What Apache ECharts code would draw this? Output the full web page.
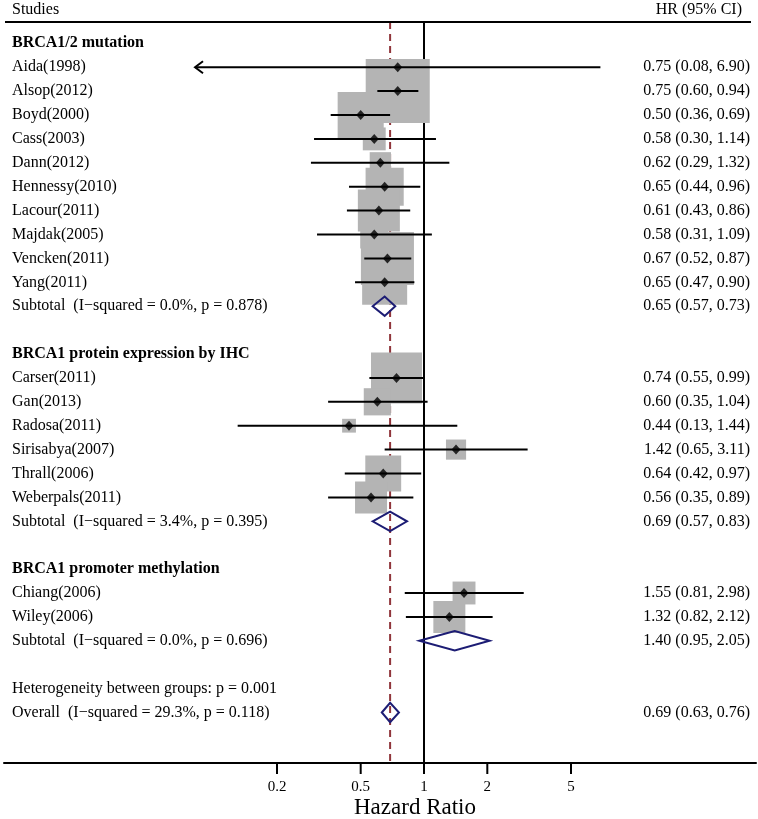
<!DOCTYPE html>
<html><head><meta charset="utf-8">
<script src="https://cdn.jsdelivr.net/npm/echarts@6/dist/echarts.min.js"></script>
<style>html,body{margin:0;padding:0;background:#fff}#c{width:758px;height:819px}</style>
</head><body><div id="c"></div>
<script>
// ---------------- data ----------------
const groups = ["BRCA1/2 mutation", "BRCA1 protein expression by IHC", "BRCA1 promoter methylation"];
const studies = ["Aida(1998)","Alsop(2012)","Boyd(2000)","Cass(2003)","Dann(2012)","Hennessy(2010)","Lacour(2011)","Majdak(2005)","Vencken(2011)","Yang(2011)",
                 "Carser(2011)","Gan(2013)","Radosa(2011)","Sirisabya(2007)","Thrall(2006)","Weberpals(2011)",
                 "Chiang(2006)","Wiley(2006)"];
const studyGroup = [0,0,0,0,0,0,0,0,0,0, 1,1,1,1,1,1, 2,2];
const hr    = [0.75,0.75,0.50,0.58,0.62,0.65,0.61,0.58,0.67,0.65, 0.74,0.60,0.44,1.42,0.64,0.56, 1.55,1.32];
const lower = [0.08,0.60,0.36,0.30,0.29,0.44,0.43,0.31,0.52,0.47, 0.55,0.35,0.13,0.65,0.42,0.35, 0.81,0.82];
const upper = [6.90,0.94,0.69,1.14,1.32,0.96,0.86,1.09,0.87,0.90, 0.99,1.04,1.44,3.11,0.97,0.89, 2.98,2.12];
const weight = [0.1,17.2,8.9,2.2,1.9,6.1,7.4,3.3,11.8,8.5, 10.9,3.1,0.8,1.7,5.4,4.3, 2.2,4.3];
const subHR    = [0.65, 0.69, 1.40];
const subLower = [0.57, 0.57, 0.95];
const subUpper = [0.73, 0.83, 2.05];
const subI2 = ["0.0", "3.4", "0.0"];
const subP  = ["0.878", "0.395", "0.696"];
const hetP = "0.001";
const overallHR = 0.69, overallLower = 0.63, overallUpper = 0.76;
const overallI2 = "29.3", overallP = "0.118";
const tickValues = [0.2, 0.5, 1, 2, 5];
const tickLabels = ["0.2", "0.5", "1", "2", "5"];

// ---------------- layout ----------------
const W = 758, H = 819;
const GRID_L = 4, GRID_R = 2, GRID_T = 22, GRID_B = 56;
const ONE_X = 424, PX_PER_DEC = 210.3;
const XMIN = Math.pow(10, (GRID_L - ONE_X) / PX_PER_DEC);
const XMAX = Math.pow(10, (W - GRID_R - ONE_X) / PX_PER_DEC);
const ROW0_Y = 43.3, ROW_H = 23.9;
const YMIN = -(ROW0_Y - GRID_T) / ROW_H;
const YMAX = (H - GRID_B - ROW0_Y) / ROW_H;
const ARROW_CLIP = 0.0815;
const BOX_K = 15.44;
const FONT = "'Liberation Serif','Times New Roman',serif";
const NAVY = '#1c1c74', MAROON = '#90353b', GREY = '#b4b4b4';

const fmt = v => v.toFixed(2);
const ciText = (h, l, u) => `${fmt(h)} (${fmt(l)}, ${fmt(u)})`;

// build rows
const rows = []; let r = 0;
groups.forEach((g, gi) => {
  rows.push({kind:'head', row:r++, text:g});
  studies.forEach((s, i) => {
    if (studyGroup[i] !== gi) return;
    rows.push({kind:'study', row:r++, text:s, right:ciText(hr[i], lower[i], upper[i]), i});
  });
  rows.push({kind:'sub', row:r++, text:`Subtotal  (I\u2212squared = ${subI2[gi]}%, p = ${subP[gi]})`,
             right:ciText(subHR[gi], subLower[gi], subUpper[gi]), gi});
  r++;
});
rows.push({kind:'het', row:r++, text:`Heterogeneity between groups: p = ${hetP}`});
rows.push({kind:'overall', row:r++, text:`Overall  (I\u2212squared = ${overallI2}%, p = ${overallP})`,
           right:ciText(overallHR, overallLower, overallUpper)});

const studyRows = rows.filter(x => x.kind === 'study');
const boxData = studyRows.map(x => [hr[x.i], x.row, weight[x.i]]);
const ciData = studyRows.map(x => [lower[x.i], upper[x.i], x.row]);
const pointData = studyRows.map(x => [hr[x.i], x.row]);
const diamondData = rows.filter(x => x.kind === 'sub').map(x => [subLower[x.gi], subHR[x.gi], subUpper[x.gi], x.row])
  .concat(rows.filter(x => x.kind === 'overall').map(x => [overallLower, overallHR, overallUpper, x.row]));
const textData = rows.map((x, k) => [1, x.row, k]);

const chart = echarts.init(document.getElementById('c'), null, {renderer:'canvas'});
chart.setOption({
  animation: false,
  backgroundColor: '#fff',
  grid: {left: GRID_L, right: GRID_R, top: GRID_T, bottom: GRID_B},
  xAxis: {
    type: 'log', logBase: 10, min: XMIN, max: XMAX, position: 'bottom',
    axisLine: {show: true, onZero: false, lineStyle: {color: '#000', width: 2}},
    axisTick: {show: false}, axisLabel: {show: false}, splitLine: {show: false}
  },
  yAxis: {type: 'value', inverse: true, min: YMIN, max: YMAX, show: false},
  graphic: [
    {type:'line', shape:{x1:5, y1:GRID_T, x2:751, y2:GRID_T}, style:{stroke:'#000', lineWidth:2}, z:10},
    {type:'text', x:12, y:10, style:{text:'Studies', fontFamily:FONT, fontSize:16, fill:'#000', align:'left', verticalAlign:'middle'}},
    {type:'text', x:742, y:10, style:{text:'HR (95% CI)', fontFamily:FONT, fontSize:16, fill:'#000', align:'right', verticalAlign:'middle'}},
    {type:'text', x:415, y:808, style:{text:'Hazard Ratio', fontFamily:FONT, fontSize:23, fill:'#000', align:'center', verticalAlign:'middle'}}
  ],
  series: [
    { // reference lines
      type:'custom', z:1, silent:true,
      data: [[1, 0, 0], [overallHR, 0, 1]],
      renderItem: (p, api) => {
        const v = api.value(0), k = api.value(2);
        const a = api.coord([v, YMIN]), b = api.coord([v, YMAX]);
        return {type:'line', shape:{x1:a[0], y1:a[1], x2:b[0], y2:b[1]},
          style: k === 0 ? {stroke:'#000', lineWidth:2} : {stroke:MAROON, lineWidth:2, lineDash:[7,5]}};
      }
    },
    { // weight boxes
      type:'custom', z:2, silent:true, data: boxData,
      renderItem: (p, api) => {
        const c = api.coord([api.value(0), api.value(1)]);
        const s = BOX_K * Math.sqrt(api.value(2));
        return {type:'rect', shape:{x:c[0]-s/2, y:c[1]-s/2, width:s, height:s}, style:{fill:GREY}};
      }
    },
    { // confidence intervals
      type:'custom', z:3, silent:true, data: ciData,
      renderItem: (p, api) => {
        const lo = api.value(0), hi = api.value(1), row = api.value(2);
        const clipped = lo < ARROW_CLIP;
        const a = api.coord([clipped ? ARROW_CLIP : lo, row]), b = api.coord([hi, row]);
        const children = [{type:'line', shape:{x1:a[0], y1:a[1], x2:b[0], y2:b[1]}, style:{stroke:'#000', lineWidth:2}}];
        if (clipped) children.push({type:'polyline', shape:{points:[[a[0]+8, a[1]-6], [a[0], a[1]], [a[0]+8, a[1]+6]]},
          style:{stroke:'#000', lineWidth:2, fill:null}});
        return {type:'group', children};
      }
    },
    { // point estimates
      type:'scatter', z:4, silent:true, data: pointData,
      symbol:'diamond', symbolSize:[9, 10], itemStyle:{color:'#000'}
    },
    { // pooled diamonds
      type:'custom', z:5, silent:true, data: diamondData,
      renderItem: (p, api) => {
        const row = api.value(3);
        const l = api.coord([api.value(0), row]), m = api.coord([api.value(1), row]), u = api.coord([api.value(2), row]);
        const h = 9.7;
        return {type:'polygon', shape:{points:[[l[0], l[1]], [m[0], m[1]-h], [u[0], u[1]], [m[0], m[1]+h]]},
          style:{stroke:NAVY, lineWidth:2, fill:null}};
      }
    },
    { // text columns
      type:'custom', z:6, silent:true, data: textData,
      renderItem: (p, api) => {
        const row = rows[api.value(2)];
        const y = api.coord([1, api.value(1)])[1];
        const children = [{type:'text', x:12, y:y, style:{text:row.text, fontFamily:FONT, fontSize:16,
          fontWeight: row.kind === 'head' ? 'bold' : 'normal', fill:'#000', align:'left', verticalAlign:'middle'}}];
        if (row.right) children.push({type:'text', x:750, y:y, style:{text:row.right, fontFamily:FONT, fontSize:16,
          fill:'#000', align:'right', verticalAlign:'middle'}});
        return {type:'group', children};
      }
    },
    { // x-axis ticks and labels
      type:'custom', z:6, silent:true, clip:false,
      data: tickValues.map((v, k) => [v, YMAX, k]),
      renderItem: (p, api) => {
        const c = api.coord([api.value(0), api.value(1)]);
        return {type:'group', children:[
          {type:'line', shape:{x1:c[0], y1:c[1], x2:c[0], y2:c[1]+11}, style:{stroke:'#000', lineWidth:2}},
          {type:'text', x:c[0], y:c[1]+24, style:{text:tickLabels[api.value(2)], fontFamily:FONT, fontSize:15,
            fill:'#000', align:'center', verticalAlign:'middle'}}
        ]};
      }
    }
  ]
});
</script>
</body></html>
